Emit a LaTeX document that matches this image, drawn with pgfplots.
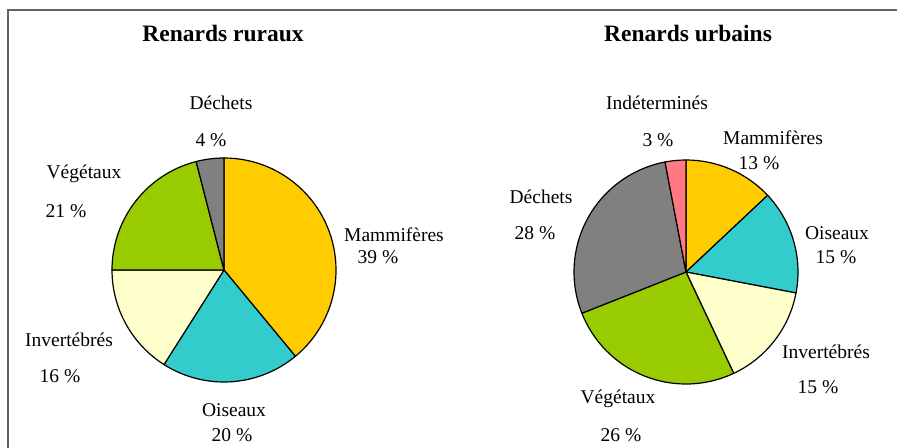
\documentclass[border=0pt]{standalone}
\usepackage{pgfplots}
\pgfplotsset{compat=1.18}
\usepackage{fontspec}
\setmainfont{Liberation Serif}

% colours of the slices
\definecolor{myyellow}{RGB}{255, 204, 0}
\definecolor{mycyan}{RGB}{51, 204, 204}
\definecolor{mylight}{RGB}{255, 255, 204}
\definecolor{mygreen}{RGB}{153, 204, 0}
\definecolor{mygray}{RGB}{128, 128, 128}
\definecolor{mypink}{RGB}{255, 120, 130}
\definecolor{myframe}{RGB}{100, 100, 100}

% slice: center x, center y, start (%), share (%), colour  -- clockwise from the top
\newcommand\pieslice[5]{%
  \filldraw[fill=#5, draw=black, line width=1.2bp, line join=round]
    (axis cs:#1,#2) -- ++({90-3.6*(#3)}:112bp)
    arc[start angle={90-3.6*(#3)}, end angle={90-3.6*(#3+#4)}, radius=112bp] -- cycle;}

\newcommand\lbl{\fontsize{19.5bp}{22bp}\selectfont}
\newcommand\ttl{\fontsize{23.5bp}{26bp}\selectfont\bfseries}

\begin{document}
\begin{tikzpicture}
  \begin{axis}[
      width=897bp, height=448bp, scale only axis,
      xmin=0, xmax=897, ymin=0, ymax=448,
      y dir=reverse,
      hide axis, clip=false,
    ]
    % frame: right and bottom sides lie outside the page and are cut off
    \draw[myframe, line width=2bp] (axis cs:8,10) rectangle (axis cs:930,480);

    % Renards ruraux
    \pieslice{224}{270}{0}{39}{myyellow}
    \pieslice{224}{270}{39}{20}{mycyan}
    \pieslice{224}{270}{59}{16}{mylight}
    \pieslice{224}{270}{75}{21}{mygreen}
    \pieslice{224}{270}{96}{4}{mygray}

    % Renards urbains
    \pieslice{686}{272}{0}{13}{myyellow}
    \pieslice{686}{272}{13}{15}{mycyan}
    \pieslice{686}{272}{28}{15}{mylight}
    \pieslice{686}{272}{43}{26}{mygreen}
    \pieslice{686}{272}{69}{28}{mygray}
    \pieslice{686}{272}{97}{3}{mypink}

    % titles
    \node[font=\ttl] at (axis cs:223,33) {Renards ruraux};
    \node[font=\ttl] at (axis cs:688,33) {Renards urbains};

    % labels, left
    \node[font=\lbl] at (axis cs:221,103) {Déchets};
    \node[font=\lbl] at (axis cs:211,140) {4 \%};
    \node[font=\lbl] at (axis cs:84,174) {Végétaux};
    \node[font=\lbl] at (axis cs:66,211) {21 \%};
    \node[font=\lbl] at (axis cs:394,235) {Mammifères};
    \node[font=\lbl] at (axis cs:378,257) {39 \%};
    \node[font=\lbl] at (axis cs:69,340) {Invertébrés};
    \node[font=\lbl] at (axis cs:60,376) {16 \%};
    \node[font=\lbl] at (axis cs:234,410) {Oiseaux};
    \node[font=\lbl] at (axis cs:232,435) {20 \%};

    % labels, right
    \node[font=\lbl] at (axis cs:657,103) {Indéterminés};
    \node[font=\lbl] at (axis cs:658,140) {3 \%};
    \node[font=\lbl] at (axis cs:773,138) {Mammifères};
    \node[font=\lbl] at (axis cs:759,163) {13 \%};
    \node[font=\lbl] at (axis cs:541,197) {Déchets};
    \node[font=\lbl] at (axis cs:535,233) {28 \%};
    \node[font=\lbl] at (axis cs:837,233) {Oiseaux};
    \node[font=\lbl] at (axis cs:836,257) {15 \%};
    \node[font=\lbl] at (axis cs:826,352) {Invertébrés};
    \node[font=\lbl] at (axis cs:818,387) {15 \%};
    \node[font=\lbl] at (axis cs:618,399) {Végétaux};
    \node[font=\lbl] at (axis cs:621,435) {26 \%};
  \end{axis}
  \pgfresetboundingbox
  \path (0,0) rectangle (897bp,448bp);
\end{tikzpicture}
\end{document}
